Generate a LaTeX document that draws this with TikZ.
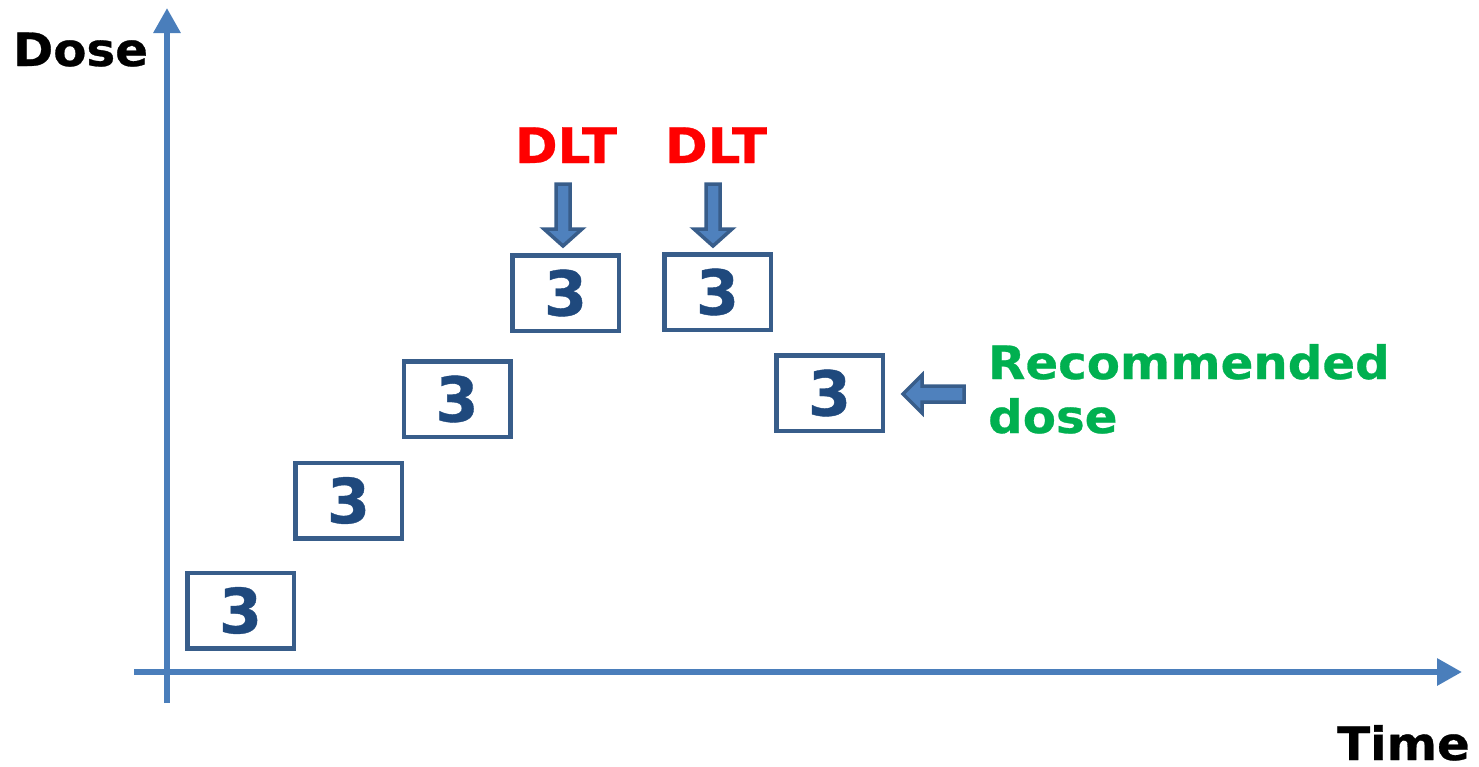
\documentclass[tikz,border=0pt]{standalone}
\usepackage{fontspec}
\setmainfont{DejaVu Sans}[BoldFeatures={FakeBold=0.6}]
\newfontfamily\widebold{DejaVu Sans Bold}[FakeStretch=1.05,FakeBold=0.6]
\usetikzlibrary{arrows.meta}
\definecolor{axisblue}{RGB}{74,126,187}
\definecolor{boxblue}{RGB}{56,93,138}
\definecolor{digitblue}{RGB}{31,73,125}
\definecolor{arrowfill}{RGB}{79,129,189}
\definecolor{dltred}{RGB}{255,0,0}
\definecolor{recgreen}{RGB}{0,176,80}
\tikzset{
  axisline/.style={draw=axisblue, line width=6pt, -{Triangle[length=25pt,width=26pt]}},
  cohort/.style={draw=boxblue, line width=4.5pt, rectangle, minimum width=106.5pt, minimum height=75.5pt,
    inner sep=0pt, text=digitblue, font=\fontsize{62}{70}\selectfont\bfseries},
  label/.style={inner sep=0pt, font=\fontsize{46}{54}\selectfont\widebold},
  blockarrow/.style={fill=arrowfill, draw=boxblue, line width=3.5pt, line join=miter}
}
\begin{document}
\begin{tikzpicture}[x=1pt,y=-1pt]
\useasboundingbox (0,0) rectangle (1479,766);
% axes
\coordinate (yfoot) at (167,703);
\coordinate (ytip) at (167,8);
\coordinate (xfoot) at (134,672);
\coordinate (xtip) at (1462,672);
\draw[axisline] (yfoot) -- (ytip);
\draw[axisline] (xfoot) -- (xtip);
\node[label, anchor=base west] (dose) at (13,66) {Dose};
\node[label, anchor=base east] (time) at (1470,760) {Time};
% cohorts of three patients
\node[cohort] (c1) at (240.5,610.5) {3};
\node[cohort] (c2) at (348.5,500.5) {3};
\node[cohort] (c3) at (457,399) {3};
\node[cohort] (c4) at (565.5,293) {3};
\node[cohort] (c5) at (717.5,292) {3};
\node[cohort] (c6) at (829.5,393) {3};
% dose-limiting toxicities
\node[label, text=dltred, anchor=base, font=\fontsize{49}{56}\selectfont\widebold] (dlt1) at (566,163) {DLT};
\node[label, text=dltred, anchor=base, font=\fontsize{49}{56}\selectfont\widebold] (dlt2) at (716,163) {DLT};
\draw[blockarrow] (556,184) -- (570,184) -- (570,229) -- (582,229) -- (563,246) -- (544,229) -- (556,229) -- cycle;
\draw[blockarrow] (706,184) -- (720,184) -- (720,229) -- (732,229) -- (713,246) -- (694,229) -- (706,229) -- cycle;
% recommended dose
\draw[blockarrow] (964,386) -- (964,402) -- (922,402) -- (922,413) -- (903,394) -- (922,375) -- (922,386) -- cycle;
\node[label, text=recgreen, anchor=base west, align=left] (rec) at (988,433) {Recommended\\dose};
\end{tikzpicture}
\end{document}
